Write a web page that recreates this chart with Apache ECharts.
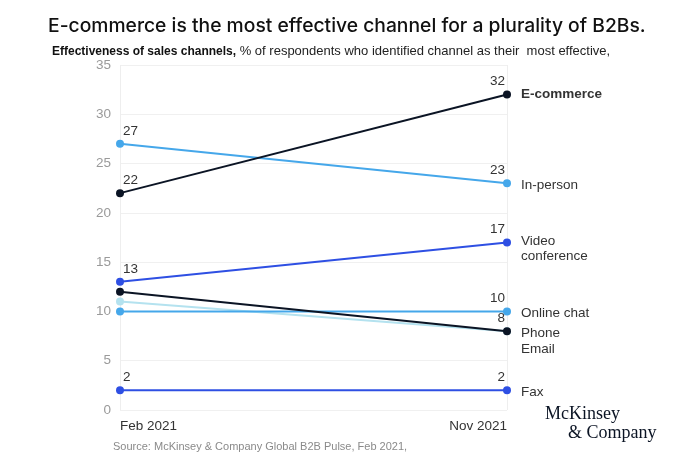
<!DOCTYPE html>
<html>
<head>
<meta charset="utf-8">
<script src="https://cdn.jsdelivr.net/npm/echarts@6/dist/echarts.min.js"></script>
<style>
  html, body { margin: 0; padding: 0; background: #fff; }
  #chart { width: 700px; height: 452px; }
</style>
</head>
<body>
<div id="chart"></div>
<script>
// data
const categories = ['Feb 2021', 'Nov 2021'];
const channels = ['E-commerce', 'In-person', 'Video\nconference', 'Online chat', 'Phone', 'Email', 'Fax'];
const febValues = [22, 27, 13, 10, 12, 11, 2];
const novValues = [32, 23, 17, 10, 8, 8, 2];
const febLabeled = [true, true, true, false, false, false, true];
const novLabeled = [true, true, true, true, true, false, true];
const yTicks = [0, 5, 10, 15, 20, 25, 30, 35];

const colors = ['#0b1424', '#45a7ea', '#2e4fe3', '#45a7ea', '#0b1424', '#b4e2ef', '#2e4fe3'];
// series drawn last sit on top
const drawOrder = [5, 3, 4, 1, 0, 2, 6];

const chart = echarts.init(document.getElementById('chart'));

function pointLabel(show, side) {
  return {
    show: show,
    position: 'top',
    align: side,
    offset: side === 'left' ? [3, 3] : [-2, 3],
    color: '#333',
    fontSize: 13.5,
    fontFamily: 'Liberation Sans, Arial, sans-serif'
  };
}

let series = drawOrder.map(i => {
  return {
    name: channels[i],
    type: 'line',
    data: [
      { value: febValues[i], label: pointLabel(febLabeled[i], 'left') },
      { value: novValues[i], label: pointLabel(novLabeled[i], 'right') }
    ],
    symbol: 'circle',
    symbolSize: 8,
    lineStyle: { width: 2, color: colors[i] },
    itemStyle: { color: colors[i] },
    label: { show: false },
    endLabel: {
      show: true,
      formatter: channels[i],
      distance: 14,
      offset: i === 5 ? [0, 18] : (i === 2 ? [0, 6] : (i === 0 ? [0, 0] : [0, 2])),
      color: '#333',
      fontSize: 13.5,
      lineHeight: 15,
      fontWeight: i === 0 ? 'bold' : 'normal',
      fontFamily: 'Liberation Sans, Arial, sans-serif'
    },
    emphasis: { disabled: true },
    z: 2 + drawOrder.indexOf(i)
  };
});

const option = {
  animation: false,
  backgroundColor: '#fff',
  title: [{
    text: 'E-commerce is the most effective channel for a plurality of B2Bs.',
    left: 43,
    top: 12,
    textStyle: {
      fontSize: 19.3,
      fontWeight: 500,
      color: '#111',
      fontFamily: 'Inter, Roboto, sans-serif'
    }
  }, {
    text: '{b|Effectiveness of sales channels,} % of respondents who identified channel as their  most effective,',
    left: 47,
    top: 40,
    textStyle: {
      fontSize: 13,
      fontWeight: 'normal',
      color: '#222',
      fontFamily: 'Liberation Sans Narrow, Liberation Sans, sans-serif',
      rich: {
        b: {
          fontSize: 12,
          fontWeight: 'bold',
          color: '#111',
          fontFamily: 'Liberation Sans Narrow, Liberation Sans, sans-serif'
        }
      }
    }
  }],
  grid: { left: 120, right: 193, top: 65, bottom: 42, containLabel: false },
  xAxis: {
    type: 'category',
    data: categories,
    boundaryGap: false,
    axisLine: { show: false },
    axisTick: { show: false },
    splitLine: { show: true, lineStyle: { color: '#eeeeee', width: 1 } },
    axisLabel: {
      color: '#333',
      fontSize: 13.5,
      margin: 9,
      alignMinLabel: 'left',
      alignMaxLabel: 'right',
      fontFamily: 'Liberation Sans, Arial, sans-serif'
    }
  },
  yAxis: {
    type: 'value',
    min: yTicks[0],
    max: yTicks[yTicks.length - 1],
    interval: 5,
    axisLine: { show: false },
    axisTick: { show: false },
    splitLine: { lineStyle: { color: '#f0f0f0', width: 1 } },
    axisLabel: {
      color: '#9a9a9a',
      fontSize: 13.5,
      margin: 9,
      fontFamily: 'Liberation Sans, Arial, sans-serif'
    }
  },
  series: series,
  graphic: [{
    type: 'text',
    left: 113,
    top: 441,
    style: {
      text: 'Source: McKinsey & Company Global B2B Pulse, Feb 2021,',
      fill: '#8a8a8a',
      fontSize: 11,
      fontFamily: 'Liberation Sans, Arial, sans-serif'
    }
  }, {
    type: 'text',
    left: 545,
    top: 405,
    style: {
      text: 'McKinsey',
      fill: '#0b1424',
      fontSize: 18,
      fontFamily: 'Liberation Serif, DejaVu Serif, serif'
    }
  }, {
    type: 'text',
    left: 568,
    top: 424,
    style: {
      text: '& Company',
      fill: '#0b1424',
      fontSize: 18,
      fontFamily: 'Liberation Serif, DejaVu Serif, serif'
    }
  }]
};

chart.setOption(option);
</script>
</body>
</html>
